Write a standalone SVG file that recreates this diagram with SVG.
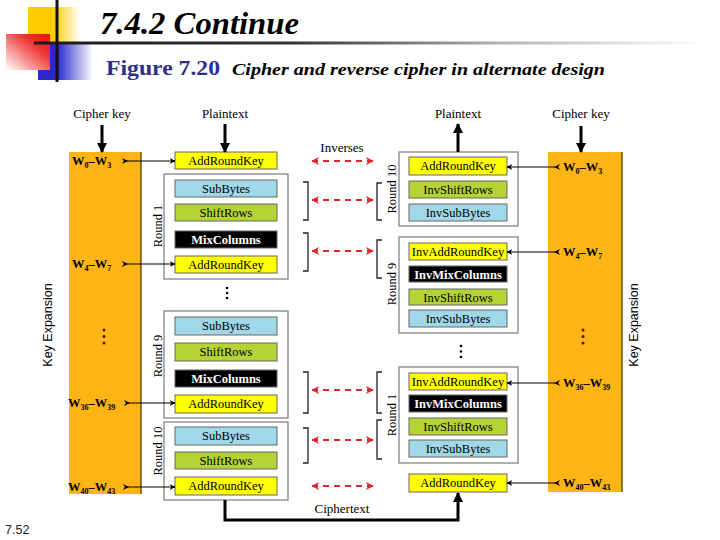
<svg xmlns="http://www.w3.org/2000/svg" width="720" height="540" viewBox="0 0 720 540">
<style>
text{font-family:"Liberation Serif","Times New Roman",serif;fill:#000}
.lbl{font-size:13px;text-anchor:middle}
.bx{stroke:#666;stroke-width:1}
.ark{fill:#ffff00}
.sb{fill:#a0d8e8}
.sr{fill:#b4d335}
.mc{fill:#000}
.bt{font-size:12.5px;text-anchor:middle}
.wt{font-size:12.5px;text-anchor:middle;fill:#fff;font-weight:bold}
.rnd{fill:#fff;stroke:#7a7a7a;stroke-width:1.2}
.rl{font-size:12.5px;text-anchor:middle}
.key{fill:#fdb515}
.kedge{stroke:#6b4e16;stroke-width:1.5}
.kt{font-size:12.5px;font-weight:bold}
.sub{font-size:8px}
.ka{stroke:#000;stroke-width:1.2;fill:none;marker-start:url(#st);marker-end:url(#sa)}
.inv{stroke:#e02828;stroke-width:2;stroke-dasharray:6 5;fill:none;marker-start:url(#ra);marker-end:url(#ra)}
.br{stroke:#222;stroke-width:1.3;fill:none}
.thick{stroke:#000;stroke-width:3;fill:none;marker-end:url(#ah)}
.ke{font-family:"Liberation Sans",Arial,sans-serif;font-size:12.5px;text-anchor:middle}
.dot{fill:#000}
.kdot{fill:#5a1a10}
</style>
<defs>
<marker id="ah" viewBox="0 0 10 10" refX="9" refY="5" markerWidth="10" markerHeight="11" markerUnits="userSpaceOnUse" orient="auto"><path d="M0,0 L10,5 L0,10 z" fill="#000"/></marker>
<marker id="sa" viewBox="0 0 10 10" refX="9" refY="5" markerWidth="6" markerHeight="6" markerUnits="userSpaceOnUse" orient="auto"><path d="M0,0 L10,5 L0,10 L3,5 z" fill="#000"/></marker>
<marker id="st" viewBox="0 0 10 10" refX="5" refY="5" markerWidth="7" markerHeight="6" markerUnits="userSpaceOnUse" orient="auto"><path d="M0,0 L10,5 L0,10 L3,5 z" fill="#000"/></marker>
<marker id="ra" viewBox="0 0 10 10" refX="9" refY="5" markerWidth="8" markerHeight="8" markerUnits="userSpaceOnUse" orient="auto-start-reverse"><path d="M0,0 L10,5 L0,10 L3,5 z" fill="#e02828"/></marker>
<linearGradient id="gy" x1="0" y1="0" x2="1" y2="0"><stop offset="0" stop-color="#ffcc00"/><stop offset="0.5" stop-color="#ffcc00"/><stop offset="1" stop-color="#ffffff"/></linearGradient>
<linearGradient id="gr" x1="1" y1="0" x2="0" y2="1"><stop offset="0" stop-color="#e80c0c"/><stop offset="0.35" stop-color="#ee3a3a"/><stop offset="1" stop-color="#ffffff"/></linearGradient>
<linearGradient id="gb" x1="0" y1="0" x2="1" y2="0"><stop offset="0" stop-color="#2a2acc"/><stop offset="0.35" stop-color="#2a2acc"/><stop offset="1" stop-color="#ffffff"/></linearGradient>
<linearGradient id="gl" gradientUnits="userSpaceOnUse" x1="34" y1="0" x2="705" y2="0"><stop offset="0" stop-color="#1a1a1a"/><stop offset="0.38" stop-color="#333"/><stop offset="0.7" stop-color="#b5b5b5"/><stop offset="1" stop-color="#ffffff"/></linearGradient>
</defs>

<g id="title">
<rect x="28" y="7" width="52" height="36" fill="url(#gy)"/>
<rect x="38" y="44" width="55" height="36" fill="url(#gb)"/>
<rect x="6" y="34" width="44" height="36" fill="url(#gr)"/>
<rect x="34" y="41.5" width="686" height="3" fill="url(#gl)"/>
<rect x="55.5" y="0" width="3" height="82" fill="#111"/>
<text x="100" y="34" font-size="31" font-weight="bold" font-style="italic" textLength="199" lengthAdjust="spacingAndGlyphs">7.4.2  Continue</text>
<text x="106" y="75" font-size="20" font-weight="bold" fill="#2e2e8c" style="fill:#2e2e8c" textLength="114" lengthAdjust="spacingAndGlyphs">Figure 7.20</text>
<text x="232" y="75" font-size="17" font-weight="bold" font-style="italic" textLength="373" lengthAdjust="spacingAndGlyphs">Cipher and reverse cipher in alternate design</text>
</g>

<g id="keyexp-left">
<rect class="key" x="69" y="152" width="72" height="342"/>
<line class="kedge" x1="141" y1="152" x2="141" y2="494"/>
<text class="lbl" x="102" y="118">Cipher key</text>
<circle class="kdot" cx="104" cy="330" r="1.5"/><circle class="kdot" cx="104" cy="336.5" r="1.5"/><circle class="kdot" cx="104" cy="343" r="1.5"/>
<text class="ke" transform="translate(52,325) rotate(-90)">Key Expansion</text>
<text class="kt" x="72" y="165">W<tspan class="sub" dy="3">0</tspan><tspan dy="-3">–W</tspan><tspan class="sub" dy="3">3</tspan></text>
<text class="kt" x="72" y="268">W<tspan class="sub" dy="3">4</tspan><tspan dy="-3">–W</tspan><tspan class="sub" dy="3">7</tspan></text>
<text class="kt" x="68" y="407">W<tspan class="sub" dy="3">36</tspan><tspan dy="-3">–W</tspan><tspan class="sub" dy="3">39</tspan></text>
<text class="kt" x="68" y="491">W<tspan class="sub" dy="3">40</tspan><tspan dy="-3">–W</tspan><tspan class="sub" dy="3">43</tspan></text>
</g>

<g id="keyexp-right">
<rect class="key" x="548" y="152" width="74" height="340"/>
<line class="kedge" x1="622" y1="152" x2="622" y2="492"/>
<text class="lbl" x="581" y="118">Cipher key</text>
<circle class="kdot" cx="583" cy="330" r="1.5"/><circle class="kdot" cx="583" cy="336.5" r="1.5"/><circle class="kdot" cx="583" cy="343" r="1.5"/>
<text class="ke" transform="translate(638,325) rotate(-90)">Key Expansion</text>
<text class="kt" x="563" y="171">W<tspan class="sub" dy="3">0</tspan><tspan dy="-3">–W</tspan><tspan class="sub" dy="3">3</tspan></text>
<text class="kt" x="563" y="256">W<tspan class="sub" dy="3">4</tspan><tspan dy="-3">–W</tspan><tspan class="sub" dy="3">7</tspan></text>
<text class="kt" x="563" y="387">W<tspan class="sub" dy="3">36</tspan><tspan dy="-3">–W</tspan><tspan class="sub" dy="3">39</tspan></text>
<text class="kt" x="563" y="487">W<tspan class="sub" dy="3">40</tspan><tspan dy="-3">–W</tspan><tspan class="sub" dy="3">43</tspan></text>
</g>

<g id="cipher-initial">
<text class="lbl" x="225" y="118">Plaintext</text>
<rect class="bx ark" x="175" y="152" width="102" height="17"/>
<text class="bt" x="226" y="165">AddRoundKey</text>
</g>

<g id="cipher-round1">
<rect class="rnd" x="164" y="174" width="124" height="105"/>
<text class="rl" transform="translate(162,226) rotate(-90)">Round 1</text>
<rect class="bx sb" x="175" y="180" width="102" height="17"/><text class="bt" x="226" y="193">SubBytes</text>
<rect class="bx sr" x="175" y="204" width="102" height="17"/><text class="bt" x="226" y="217">ShiftRows</text>
<rect class="bx mc" x="175" y="231" width="102" height="17"/><text class="wt" x="226" y="244">MixColumns</text>
<rect class="bx ark" x="175" y="256" width="102" height="17"/><text class="bt" x="226" y="269">AddRoundKey</text>
</g>

<g id="cipher-dots">
<circle class="dot" cx="227" cy="288" r="1.3"/><circle class="dot" cx="227" cy="293" r="1.3"/><circle class="dot" cx="227" cy="298" r="1.3"/>
</g>

<g id="cipher-round9">
<rect class="rnd" x="164" y="311" width="124" height="107"/>
<text class="rl" transform="translate(162,356) rotate(-90)">Round 9</text>
<rect class="bx sb" x="175" y="317" width="102" height="18"/><text class="bt" x="226" y="330">SubBytes</text>
<rect class="bx sr" x="175" y="343" width="102" height="18"/><text class="bt" x="226" y="356">ShiftRows</text>
<rect class="bx mc" x="175" y="370" width="102" height="17"/><text class="wt" x="226" y="383">MixColumns</text>
<rect class="bx ark" x="175" y="395" width="102" height="18"/><text class="bt" x="226" y="408">AddRoundKey</text>
</g>

<g id="cipher-round10">
<rect class="rnd" x="164" y="422" width="124" height="78"/>
<text class="rl" transform="translate(162,451) rotate(-90)">Round 10</text>
<rect class="bx sb" x="175" y="427" width="102" height="18"/><text class="bt" x="226" y="440">SubBytes</text>
<rect class="bx sr" x="175" y="452" width="102" height="17"/><text class="bt" x="226" y="465">ShiftRows</text>
<rect class="bx ark" x="175" y="477" width="102" height="18"/><text class="bt" x="226" y="490">AddRoundKey</text>
</g>

<g id="inv-round10">
<text class="lbl" x="458" y="118">Plaintext</text>
<rect class="rnd" x="399" y="152" width="119" height="74"/>
<text class="rl" transform="translate(396,189) rotate(-90)">Round 10</text>
<rect class="bx ark" x="409" y="157" width="98" height="18"/><text class="bt" x="458" y="170">AddRoundKey</text>
<rect class="bx sr" x="409" y="181" width="98" height="17"/><text class="bt" x="458" y="194">InvShiftRows</text>
<rect class="bx sb" x="409" y="204" width="98" height="17"/><text class="bt" x="458" y="217">InvSubBytes</text>
</g>

<g id="inv-round9">
<rect class="rnd" x="399" y="237" width="119" height="96"/>
<text class="rl" transform="translate(396,284) rotate(-90)">Round 9</text>
<rect class="bx ark" x="409" y="243" width="98" height="17"/><text class="bt" x="458" y="256">InvAddRoundKey</text>
<rect class="bx mc" x="409" y="266" width="98" height="16"/><text class="wt" x="458" y="278.5">InvMixColumns</text>
<rect class="bx sr" x="409" y="289" width="98" height="16"/><text class="bt" x="458" y="301.5">InvShiftRows</text>
<rect class="bx sb" x="409" y="310" width="98" height="17"/><text class="bt" x="458" y="323">InvSubBytes</text>
</g>

<g id="inv-dots">
<circle class="dot" cx="461" cy="346" r="1.3"/><circle class="dot" cx="461" cy="351.5" r="1.3"/><circle class="dot" cx="461" cy="357" r="1.3"/>
</g>

<g id="inv-round1">
<rect class="rnd" x="399" y="367" width="119" height="96"/>
<text class="rl" transform="translate(396,415) rotate(-90)">Round 1</text>
<rect class="bx ark" x="409" y="373" width="98" height="17"/><text class="bt" x="458" y="386">InvAddRoundKey</text>
<rect class="bx mc" x="409" y="395" width="98" height="17"/><text class="wt" x="458" y="408">InvMixColumns</text>
<rect class="bx sr" x="409" y="418" width="98" height="17"/><text class="bt" x="458" y="431">InvShiftRows</text>
<rect class="bx sb" x="409" y="440" width="98" height="17"/><text class="bt" x="458" y="453">InvSubBytes</text>
</g>

<g id="inv-final">
<rect class="bx ark" x="409" y="474" width="98" height="18"/><text class="bt" x="458" y="487">AddRoundKey</text>
</g>

<g id="inverses">
<text class="lbl" x="342" y="152">Inverses</text>
<path class="br" d="M303,182 H308 V220 H303"/><path class="br" d="M382,183 H377 V220 H382"/>
<path class="br" d="M303,233 H308 V271 H303"/><path class="br" d="M382,240 H377 V278 H382"/>
<path class="br" d="M303,372 H308 V413 H303"/><path class="br" d="M382,372 H377 V413 H382"/>
<path class="br" d="M303,428 H308 V463 H303"/><path class="br" d="M382,420 H377 V459 H382"/>
</g>

<g id="connectors">
<line class="thick" x1="102" y1="125" x2="102" y2="152"/>
<line class="thick" x1="581" y1="126" x2="581" y2="152"/>
<line class="thick" x1="225" y1="124" x2="225" y2="152"/>
<line class="thick" x1="458" y1="152" x2="458" y2="124"/>
<path class="thick" d="M225,500 V520 H458 V493"/>
<text class="lbl" x="342" y="513">Ciphertext</text>
<line class="ka" x1="125" y1="161" x2="175" y2="161"/>
<line class="ka" x1="125" y1="264" x2="175" y2="264"/>
<line class="ka" x1="127" y1="403" x2="175" y2="403"/>
<line class="ka" x1="126" y1="487" x2="175" y2="487"/>
<line class="ka" x1="557" y1="167" x2="507" y2="167"/>
<line class="ka" x1="557" y1="252" x2="507" y2="252"/>
<line class="ka" x1="557" y1="383" x2="507" y2="383"/>
<line class="ka" x1="557" y1="483" x2="507" y2="483"/>
<line class="inv" x1="312" y1="161" x2="373" y2="161"/>
<line class="inv" x1="312" y1="200" x2="373" y2="200"/>
<line class="inv" x1="312" y1="251" x2="373" y2="251"/>
<line class="inv" x1="312" y1="390" x2="373" y2="390"/>
<line class="inv" x1="312" y1="440" x2="373" y2="440"/>
<line class="inv" x1="312" y1="486" x2="373" y2="486"/>
</g>

<text x="5" y="534" font-family="Liberation Sans, Arial, sans-serif" font-size="12.5" style="font-family:'Liberation Sans',Arial,sans-serif;fill:#222">7.52</text>
</svg>
